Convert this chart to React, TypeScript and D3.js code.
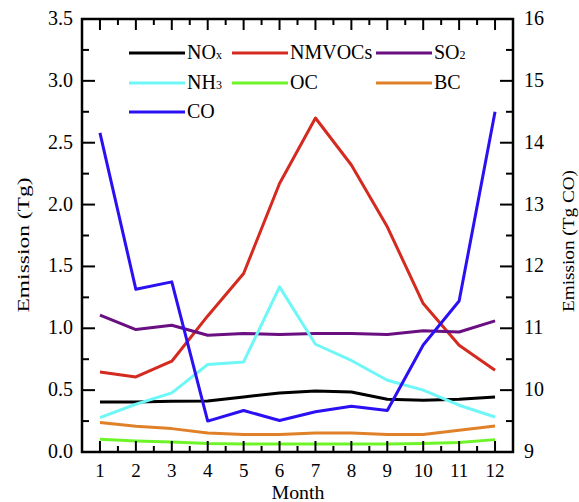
import React from 'react';
import * as d3 from 'd3';

const months = [1, 2, 3, 4, 5, 6, 7, 8, 9, 10, 11, 12];
const noxValues = [0.405, 0.405, 0.41, 0.413, 0.445, 0.477, 0.494, 0.485, 0.426, 0.418, 0.426, 0.445];
const nmvocValues = [0.647, 0.607, 0.734, 1.1, 1.443, 2.17, 2.7, 2.32, 1.82, 1.2, 0.863, 0.661];
const so2Values = [1.106, 0.99, 1.025, 0.944, 0.958, 0.95, 0.958, 0.958, 0.95, 0.98, 0.97, 1.06];
const nh3Values = [0.278, 0.386, 0.478, 0.707, 0.728, 1.335, 0.871, 0.74, 0.58, 0.5, 0.378, 0.283];
const ocValues = [0.103, 0.089, 0.081, 0.068, 0.065, 0.065, 0.065, 0.065, 0.065, 0.068, 0.076, 0.1];
const bcValues = [0.238, 0.208, 0.189, 0.154, 0.141, 0.141, 0.154, 0.154, 0.141, 0.141, 0.176, 0.21];
const coValues = [14.16, 11.63, 11.75, 9.5, 9.67, 9.51, 9.65, 9.74, 9.67, 10.73, 11.44, 14.5];

const leftTicks = [0, 0.5, 1, 1.5, 2, 2.5, 3, 3.5];
const rightTicks = [9, 10, 11, 12, 13, 14, 15, 16];

const series = [
    { name: 'NO', sub: 'x', values: noxValues, color: '#000000', axis: 'left' },
    { name: 'NMVOCs', sub: '', values: nmvocValues, color: '#d42a20', axis: 'left' },
    { name: 'SO', sub: '2', values: so2Values, color: '#6a0f82', axis: 'left' },
    { name: 'NH', sub: '3', values: nh3Values, color: '#6ff7f7', axis: 'left' },
    { name: 'OC', sub: '', values: ocValues, color: '#6ef52a', axis: 'left' },
    { name: 'BC', sub: '', values: bcValues, color: '#e0812a', axis: 'left' },
    { name: 'CO', sub: '', values: coValues, color: '#2a10f2', axis: 'right' },
];

const W = 579, H = 502;
const m = { left: 82, right: 513, top: 19, bottom: 452 };
const font = '"Liberation Serif", "DejaVu Serif", serif';

export default function App() {
    const x = d3.scaleLinear().domain([0.5, 12.5]).range([m.left, m.right]);
    const yL = d3.scaleLinear().domain([0, 3.5]).range([m.bottom, m.top]);
    const yR = d3.scaleLinear().domain([9, 16]).range([m.bottom, m.top]);

    const xMinor = d3.range(1.5, 12.5, 1);
    const leftMinor = d3.range(0.25, 3.5, 0.5);
    const rightMinor = d3.range(9.5, 16, 1);

    const legendPos = [
        [129, 53], [232, 53], [376, 53],
        [129, 83], [232, 83], [376, 83],
        [129, 112],
    ];

    return (
        <svg width={W} height={H} style={{ position: 'absolute', left: 0, top: 0, background: '#fff' }} fontFamily={font}>
            {/* lines */}
            {series.map(s => {
                const y = s.axis === 'left' ? yL : yR;
                const line = d3.line<number>()
                    .x((_, i) => x(months[i]))
                    .y(v => y(v));
                return <path key={s.name} d={line(s.values) || ''} fill="none" stroke={s.color} strokeWidth={3} strokeLinejoin="round" />;
            })}

            {/* frame */}
            <rect x={m.left} y={m.top} width={m.right - m.left} height={m.bottom - m.top} fill="none" stroke="#000" strokeWidth={2.5} />

            {/* x ticks, top and bottom, inward */}
            {months.map(d => (
                <g key={'xt' + d}>
                    <line x1={x(d)} x2={x(d)} y1={m.bottom} y2={m.bottom - 11} stroke="#000" strokeWidth={2} />
                    <line x1={x(d)} x2={x(d)} y1={m.top} y2={m.top + 11} stroke="#000" strokeWidth={2} />
                    <text x={x(d)} y={477} textAnchor="middle" fontSize={19}>{d}</text>
                </g>
            ))}
            {xMinor.map(d => (
                <g key={'xm' + d}>
                    <line x1={x(d)} x2={x(d)} y1={m.bottom} y2={m.bottom - 6} stroke="#000" strokeWidth={2} />
                    <line x1={x(d)} x2={x(d)} y1={m.top} y2={m.top + 6} stroke="#000" strokeWidth={2} />
                </g>
            ))}

            {/* left axis */}
            {leftTicks.map(t => (
                <g key={'yl' + t}>
                    <line x1={m.left} x2={m.left + 13} y1={yL(t)} y2={yL(t)} stroke="#000" strokeWidth={2} />
                    <text x={73} y={yL(t) + 6} textAnchor="end" fontSize={20}>{d3.format('.1f')(t)}</text>
                </g>
            ))}
            {leftMinor.map(t => (
                <line key={'ylm' + t} x1={m.left} x2={m.left + 7} y1={yL(t)} y2={yL(t)} stroke="#000" strokeWidth={2} />
            ))}

            {/* right axis */}
            {rightTicks.map(t => (
                <g key={'yr' + t}>
                    <line x1={m.right} x2={m.right - 13} y1={yR(t)} y2={yR(t)} stroke="#000" strokeWidth={2} />
                    <text x={524} y={yR(t) + 6} textAnchor="start" fontSize={20}>{t}</text>
                </g>
            ))}
            {rightMinor.map(t => (
                <line key={'yrm' + t} x1={m.right} x2={m.right - 7} y1={yR(t)} y2={yR(t)} stroke="#000" strokeWidth={2} />
            ))}

            {/* axis titles */}
            <text x={298} y={499} textAnchor="middle" fontSize={18} textLength={53} lengthAdjust="spacingAndGlyphs">Month</text>
            <text transform={`translate(29, 245) rotate(-90)`} textAnchor="middle" fontSize={16} textLength={135} lengthAdjust="spacingAndGlyphs">Emission (Tg)</text>
            <text transform={`translate(574, 241) rotate(-90)`} textAnchor="middle" fontSize={16} textLength={142} lengthAdjust="spacingAndGlyphs">Emission (Tg CO)</text>

            {/* legend */}
            {series.map((s, i) => {
                const [lx, ly] = legendPos[i];
                return (
                    <g key={'lg' + s.name}>
                        <line x1={lx} x2={lx + 56} y1={ly} y2={ly} stroke={s.color} strokeWidth={3} />
                        <text x={lx + 58} y={ly + 6} fontSize={20}>
                            {s.name}
                            {s.sub && <tspan fontSize={12}>{s.sub}</tspan>}
                        </text>
                    </g>
                );
            })}
        </svg>
    );
}
